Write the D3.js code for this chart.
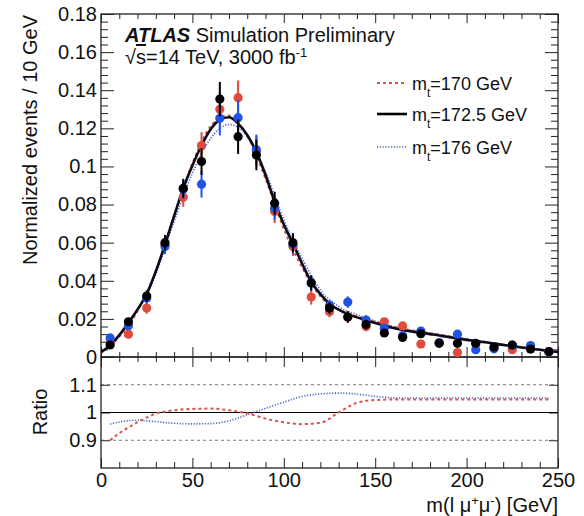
<!DOCTYPE html>
<html><head><meta charset="utf-8">
<script src="https://cdn.jsdelivr.net/npm/d3@7"></script>
<style>
body{margin:0;background:#fff;}
text{font-family:"Liberation Sans",Arial,Helvetica,sans-serif;fill:#111;}
</style></head>
<body>
<script>
// ---------- DATA ----------
const binCenters = [5,15,25,35,45,55,65,75,85,95,105,115,125,135,145,155,165,175,185,195,205,215,225,235,245];
const pointsBlack = [0.0063,0.0185,0.032,0.060,0.0885,0.1026,0.1354,0.1156,0.106,0.0807,0.060,0.0388,0.0257,0.021,0.017,0.0126,0.0103,0.0122,0.0072,0.0072,0.0072,0.0052,0.0063,0.0042,0.0028];
const pointsRed   = [0.0075,0.012,0.0257,0.059,0.0838,0.111,0.130,0.1361,0.108,0.0763,0.058,0.0315,0.0238,0.021,0.016,0.0185,0.0163,0.0068,0.0075,0.0023,0.0068,0.005,0.0038,0.0042,0.003];
const pointsBlue  = [0.0100,0.0164,0.031,0.058,0.088,0.0907,0.1253,0.1256,0.1087,0.078,0.059,0.039,0.027,0.0288,0.0194,0.0151,0.0112,0.0136,0.0075,0.012,0.0038,0.0043,0.0062,0.006,0.0027];
const pointErrors = [0.0015,0.002,0.003,0.004,0.005,0.007,0.009,0.009,0.008,0.006,0.005,0.004,0.003,0.003,0.0025,0.002,0.002,0.002,0.0015,0.0015,0.0015,0.0012,0.0012,0.0012,0.001];

const curveXBlack = [0,5,10,15,20,25,30,35,40,45,50,55,60,65,70,75,80,85,90,95,100,105,110,115,120,125,130,135,140,145,150,155,160,165,170,175,180,185,190,195,200,205,210,215,220,225,230,235,240,245,250];
const curveBlack  = [0.0025,0.0062,0.0115,0.018,0.025,0.033,0.045,0.059,0.074,0.0885,0.1005,0.111,0.1195,0.1245,0.1258,0.1225,0.1165,0.1075,0.0955,0.0815,0.0695,0.0595,0.049,0.0395,0.033,0.028,0.0248,0.0225,0.0208,0.0193,0.0178,0.0164,0.0152,0.0142,0.0134,0.0127,0.012,0.0113,0.0105,0.0097,0.009,0.0083,0.0077,0.007,0.0063,0.0057,0.005,0.0044,0.0038,0.0032,0.0026];
const curveXColor = [0,10,20,30,40,50,60,70,80,90,100,110,120,130,140,150,160,170,180,190,200,210,220,230,240,250];
const curveRed  = [0.0022,0.0106,0.0241,0.0448,0.0746,0.1018,0.1212,0.1268,0.1160,0.0934,0.0671,0.0469,0.0318,0.0248,0.0215,0.0186,0.0159,0.0140,0.01256,0.0110,0.00942,0.00806,0.0066,0.00524,0.00398,0.00272];
const curveBlue = [0.0024,0.0111,0.0243,0.0435,0.0711,0.0964,0.1147,0.1220,0.1157,0.0969,0.0721,0.0518,0.0352,0.0265,0.0222,0.0188,0.0160,0.0141,0.0126,0.0110,0.00947,0.0081,0.00663,0.00526,0.0040,0.00274];

const ratioX = [5,10,20,30,40,50,60,70,80,90,100,110,120,130,140,150,160,170,180,190,200,210,220,230,240,245];
const ratioRed  = [0.900,0.925,0.965,0.996,1.008,1.013,1.014,1.008,0.997,0.978,0.965,0.958,0.963,1.0,1.035,1.045,1.047,1.047,1.047,1.047,1.047,1.047,1.047,1.047,1.047,1.047];
const ratioBlue = [0.958,0.966,0.972,0.967,0.961,0.959,0.960,0.970,0.992,1.015,1.037,1.058,1.067,1.070,1.066,1.058,1.053,1.052,1.052,1.052,1.052,1.052,1.052,1.052,1.052,1.052];

const xMajor = [0,50,100,150,200,250];
const xTickLabels = ["0","50","100","150","200","250"];
const xMinor = [10,20,30,40,60,70,80,90,110,120,130,140,160,170,180,190,210,220,230,240];
const yMajor = [0,0.02,0.04,0.06,0.08,0.1,0.12,0.14,0.16,0.18];
const yTickLabels = ["0","0.02","0.04","0.06","0.08","0.1","0.12","0.14","0.16","0.18"];
const yMinor = d3.range(0,0.1801,0.004).filter(v=>Math.abs(v/0.02-Math.round(v/0.02))>1e-6);
const rMajor = [0.9,1.0,1.1];
const rTickLabels = ["0.9","1","1.1"];

const legendLabels = ["=170 GeV","=172.5 GeV","=176 GeV"];

// ---------- LAYOUT ----------
const W=584,H=516;
const X0=101,X1=558,YT=14,YM=357,YB=468;
const colRed="#e24a3b", colBlue="#2152e6", colBlack="#000";
const colRedLine="#d9534a", colBlueLine="#4a66cc";

const svg=d3.select("body").append("svg").attr("width",W).attr("height",H);
const x=d3.scaleLinear().domain([0,250]).range([X0,X1]);
const y=d3.scaleLinear().domain([0,0.18]).range([YM,YT]);
const yr=d3.scaleLinear().domain([0.8,1.2]).range([YB,YM]);

svg.append("defs").append("clipPath").attr("id","clipMain").append("rect")
  .attr("x",X0).attr("y",YT).attr("width",X1-X0).attr("height",YM-YT);
svg.select("defs").append("clipPath").attr("id","clipRatio").append("rect")
  .attr("x",X0).attr("y",YM).attr("width",X1-X0).attr("height",YB-YM);

function axisG(axis,tx,ty){
  const g=svg.append("g").attr("transform",`translate(${tx},${ty})`).call(axis);
  g.select(".domain").remove();
  g.selectAll("line").attr("stroke","#222").attr("stroke-width",1);
  g.selectAll("text").style("font-size","20px").attr("fill","#111");
  return g;
}
// main panel axes
axisG(d3.axisLeft(y).tickValues(yMajor).tickFormat((d,i)=>yTickLabels[i]).tickSize(-13).tickPadding(4).tickSizeOuter(0),X0,0);
axisG(d3.axisLeft(y).tickValues(yMinor).tickFormat("").tickSize(-7).tickSizeOuter(0),X0,0);
axisG(d3.axisRight(y).tickValues(yMajor).tickFormat("").tickSize(-13).tickSizeOuter(0),X1,0);
axisG(d3.axisRight(y).tickValues(yMinor).tickFormat("").tickSize(-7).tickSizeOuter(0),X1,0);
axisG(d3.axisTop(x).tickValues(xMajor).tickFormat("").tickSize(-9).tickSizeOuter(0),0,YT);
axisG(d3.axisTop(x).tickValues(xMinor).tickFormat("").tickSize(-5).tickSizeOuter(0),0,YT);
axisG(d3.axisBottom(x).tickValues(xMajor).tickFormat("").tickSize(-10).tickSizeOuter(0),0,YM);
axisG(d3.axisBottom(x).tickValues(xMinor).tickFormat("").tickSize(-5).tickSizeOuter(0),0,YM);
// ratio panel axes
axisG(d3.axisTop(x).tickValues(xMajor).tickFormat("").tickSize(-10).tickSizeOuter(0),0,YM);
axisG(d3.axisTop(x).tickValues(xMinor).tickFormat("").tickSize(-5).tickSizeOuter(0),0,YM);
axisG(d3.axisBottom(x).tickValues(xMajor).tickFormat((d,i)=>xTickLabels[i]).tickSize(-10).tickPadding(5).tickSizeOuter(0),0,YB);
axisG(d3.axisBottom(x).tickValues(xMinor).tickFormat("").tickSize(-6).tickSizeOuter(0),0,YB);
axisG(d3.axisLeft(yr).tickValues(rMajor).tickFormat((d,i)=>rTickLabels[i]).tickSize(-9).tickPadding(4).tickSizeOuter(0),X0,0);
axisG(d3.axisRight(yr).tickValues(rMajor).tickFormat("").tickSize(-9).tickSizeOuter(0),X1,0);

// ratio reference lines
[1.1,0.9].forEach(v=>{
  svg.append("line").attr("x1",X0).attr("x2",X1).attr("y1",yr(v)).attr("y2",yr(v))
    .attr("stroke","#555").attr("stroke-width",0.8).attr("stroke-dasharray","3,3");
});
svg.append("line").attr("x1",X0).attr("x2",X1).attr("y1",yr(1)).attr("y2",yr(1))
  .attr("stroke","#000").attr("stroke-width",1.2);

// frames
svg.append("rect").attr("x",X0).attr("y",YT).attr("width",X1-X0).attr("height",YM-YT)
  .attr("fill","none").attr("stroke","#222").attr("stroke-width",1.3);
svg.append("rect").attr("x",X0).attr("y",YM).attr("width",X1-X0).attr("height",YB-YM)
  .attr("fill","none").attr("stroke","#222").attr("stroke-width",1.3);

// main curves
const lineMain=(xs)=>d3.line().x((d,i)=>x(xs[i])).y(d=>y(d)).curve(d3.curveMonotoneX);
const gMain=svg.append("g").attr("clip-path","url(#clipMain)");
gMain.append("path").datum(curveBlue).attr("d",lineMain(curveXColor)).attr("fill","none")
  .attr("stroke",colBlueLine).attr("stroke-width",1.6).attr("stroke-dasharray","1.2,1.6");
gMain.append("path").datum(curveRed).attr("d",lineMain(curveXColor)).attr("fill","none")
  .attr("stroke",colRedLine).attr("stroke-width",1.8).attr("stroke-dasharray","3,3");
gMain.append("path").datum(curveBlack).attr("d",lineMain(curveXBlack)).attr("fill","none")
  .attr("stroke","#0a0a1a").attr("stroke-width",2.6);

// data points
function drawPoints(vals,col){
  const g=gMain.append("g");
  binCenters.forEach((c,i)=>{
    const v=vals[i], e=pointErrors[i];
    g.append("line").attr("x1",x(c)).attr("x2",x(c)).attr("y1",y(v-e)).attr("y2",y(v+e))
      .attr("stroke",col).attr("stroke-width",2);
    g.append("circle").attr("cx",x(c)).attr("cy",y(v)).attr("r",4.6).attr("fill",col);
  });
}
drawPoints(pointsRed,colRed);
drawPoints(pointsBlue,colBlue);
drawPoints(pointsBlack,colBlack);

// ratio curves
const lineR=d3.line().x((d,i)=>x(ratioX[i])).y(d=>yr(d)).curve(d3.curveMonotoneX);
const gR=svg.append("g").attr("clip-path","url(#clipRatio)");
gR.append("path").datum(ratioBlue).attr("d",lineR).attr("fill","none")
  .attr("stroke",colBlueLine).attr("stroke-width",1.6).attr("stroke-dasharray","1.2,1.6");
gR.append("path").datum(ratioRed).attr("d",lineR).attr("fill","none")
  .attr("stroke",colRedLine).attr("stroke-width",2).attr("stroke-dasharray","3,3");

// axis titles
svg.append("text").attr("transform",`translate(37,140) rotate(-90)`)
  .attr("text-anchor","middle").style("font-size","20px").text("Normalized events / 10 GeV");
svg.append("text").attr("transform",`translate(47,412) rotate(-90)`)
  .attr("text-anchor","middle").style("font-size","20px").text("Ratio");
const xt=svg.append("text").attr("x",X1).attr("y",512).attr("text-anchor","end").style("font-size","20px");
xt.append("tspan").text("m(l μ");
xt.append("tspan").attr("baseline-shift","super").style("font-size","13px").text("+");
xt.append("tspan").text("μ");
xt.append("tspan").attr("baseline-shift","super").style("font-size","13px").text("-");
xt.append("tspan").text(") [GeV]");

// ATLAS label
const at=svg.append("text").attr("x",125).attr("y",42).style("font-size","20px");
at.append("tspan").style("font-weight","bold").style("font-style","italic").text("ATLAS");
at.append("tspan").text(" Simulation Preliminary");
const en=svg.append("text").attr("x",125).attr("y",64).style("font-size","20px");
en.append("tspan").text("√");
en.append("tspan").style("text-decoration","overline").text("s");
en.append("tspan").text("=14 TeV, 3000 fb");
en.append("tspan").attr("baseline-shift","super").style("font-size","13px").text("-1");

// legend
const legY=[83,114,147];
const legStyles=[
  {c:colRedLine,w:1.8,d:"3,3"},
  {c:"#000",w:2.6,d:null},
  {c:colBlueLine,w:1.6,d:"1.2,1.6"}
];
legendLabels.forEach((lab,i)=>{
  const l=svg.append("line").attr("x1",377).attr("x2",407).attr("y1",legY[i]).attr("y2",legY[i])
    .attr("stroke",legStyles[i].c).attr("stroke-width",legStyles[i].w);
  if(legStyles[i].d) l.attr("stroke-dasharray",legStyles[i].d);
  const t=svg.append("text").attr("x",412).attr("y",legY[i]+7).style("font-size","18px");
  t.append("tspan").text("m");
  t.append("tspan").attr("baseline-shift","sub").style("font-size","12px").text("t");
  t.append("tspan").attr("baseline-shift","0").text(lab);
});
</script>
</body></html>
